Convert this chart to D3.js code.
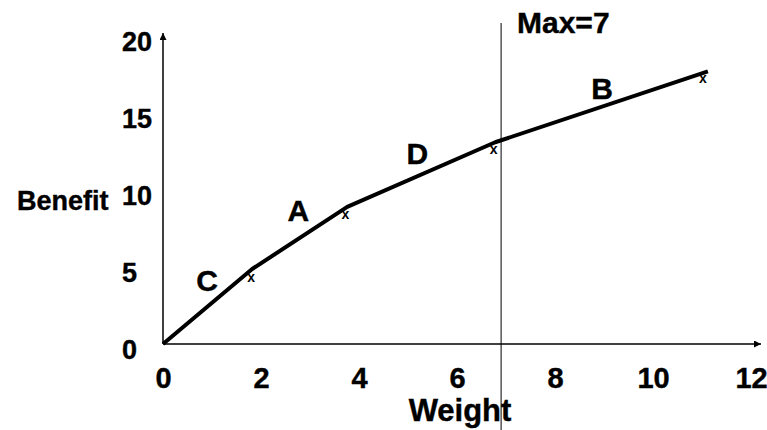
<!DOCTYPE html>
<html>
<head>
<meta charset="utf-8">
<script src="https://cdn.jsdelivr.net/npm/d3@7"></script>
<style>
  body { margin: 0; background: #fff; }
  svg { font-family: "Liberation Sans", Arial, sans-serif; font-weight: bold; }
  text { stroke: #000; stroke-width: 0.4px; }
</style>
</head>
<body>
<div id="chart"></div>
<script>
// data
var weights  = [0, 1.82, 3.76, 6.78, 11.12];
var benefits = [0, 4.87, 8.9, 13.1, 17.7];
// small "x" marks just under the bends
var markW = [1.8, 3.72, 6.75, 11.02];
var markB = [4.35, 8.44, 12.66, 17.27];
// item letters
var itemNames = ["C", "A", "D", "B"];
var itemW = [0.9, 2.76, 5.19, 8.96];
var itemB = [4.16, 8.7, 12.4, 16.6];
var xTicks = [0, 2, 4, 6, 8, 10, 12];
var yTicks = [0, 5, 10, 15, 20];
var maxLine = 6.9, maxLabel = "Max=7";

var width = 767, height = 430;

var svg = d3.select("#chart")
  .append("svg")
    .attr("width", width)
    .attr("height", height);

var x = d3.scaleLinear().domain([0, 12]).range([163, 751]);
var y = d3.scaleLinear().domain([0, 20]).range([344, 36]);

// arrow heads
var defs = svg.append("defs");
defs.append("marker")
    .attr("id", "arrow")
    .attr("viewBox", "0 0 10 10")
    .attr("refX", 10).attr("refY", 5)
    .attr("markerWidth", 7).attr("markerHeight", 7)
    .attr("markerUnits", "userSpaceOnUse")
    .attr("orient", "auto")
  .append("path")
    .attr("d", "M0,0L10,5L0,10z")
    .attr("fill", "#000");

// axis lines
svg.append("line")
    .attr("x1", x(0)).attr("y1", y(0))
    .attr("x2", 761).attr("y2", y(0))
    .attr("stroke", "#000").attr("stroke-width", 1.5)
    .attr("marker-end", "url(#arrow)");
svg.append("line")
    .attr("x1", x(0)).attr("y1", y(0))
    .attr("x2", x(0)).attr("y2", 33)
    .attr("stroke", "#000").attr("stroke-width", 1.5)
    .attr("marker-end", "url(#arrow)");

// tick labels through d3 axes (no domain, no ticks)
var gx = svg.append("g")
    .attr("transform", "translate(0," + y(0) + ")")
    .call(d3.axisBottom(x).tickValues(xTicks).tickSize(0).tickPadding(23));
gx.select(".domain").remove();
gx.selectAll("text")
    .attr("font-size", 29).attr("font-family", null)
    .attr("font-weight", "bold").attr("fill", "#000");

var gy = svg.append("g")
    .attr("transform", "translate(122,0)")
    .call(d3.axisLeft(y).tickValues(yTicks).tickSize(0).tickPadding(0));
gy.select(".domain").remove();
gy.selectAll("text")
    .attr("text-anchor", "start")
    .attr("dy", "0.55em")
    .attr("font-size", 27).attr("font-family", null)
    .attr("font-weight", "bold").attr("fill", "#000");

// axis titles
svg.append("text")
    .attr("x", 17).attr("y", 210)
    .attr("font-size", 27)
    .text("Benefit");
svg.append("text")
    .attr("x", 460).attr("y", 421)
    .attr("text-anchor", "middle")
    .attr("font-size", 31)
    .text("Weight");

// capacity line
svg.append("line")
    .attr("x1", x(maxLine)).attr("y1", 23)
    .attr("x2", x(maxLine)).attr("y2", height)
    .attr("stroke", "#000").attr("stroke-width", 1);
svg.append("text")
    .attr("x", 517).attr("y", 33)
    .attr("font-size", 30)
    .text(maxLabel);

// benefit curve
var line = d3.line()
    .x(function(d, i) { return x(weights[i]); })
    .y(function(d, i) { return y(benefits[i]); });
svg.append("path")
    .datum(weights)
    .attr("d", line)
    .attr("fill", "none")
    .attr("stroke", "#000")
    .attr("stroke-width", 4)
    .attr("stroke-linejoin", "round");

// x marks
svg.selectAll(".mark")
    .data(markW)
    .enter()
    .append("text")
      .attr("class", "mark")
      .attr("x", function(d) { return x(d); })
      .attr("y", function(d, i) { return y(markB[i]); })
      .attr("dy", "0.35em")
      .attr("text-anchor", "middle")
      .attr("font-size", 14)
      .style("stroke-width", 0)
      .text("x");

// item letters
svg.selectAll(".item")
    .data(itemNames)
    .enter()
    .append("text")
      .attr("class", "item")
      .attr("x", function(d, i) { return x(itemW[i]); })
      .attr("y", function(d, i) { return y(itemB[i]); })
      .attr("dy", "0.36em")
      .attr("text-anchor", "middle")
      .attr("font-size", 30)
      .text(function(d) { return d; });
</script>
</body>
</html>
